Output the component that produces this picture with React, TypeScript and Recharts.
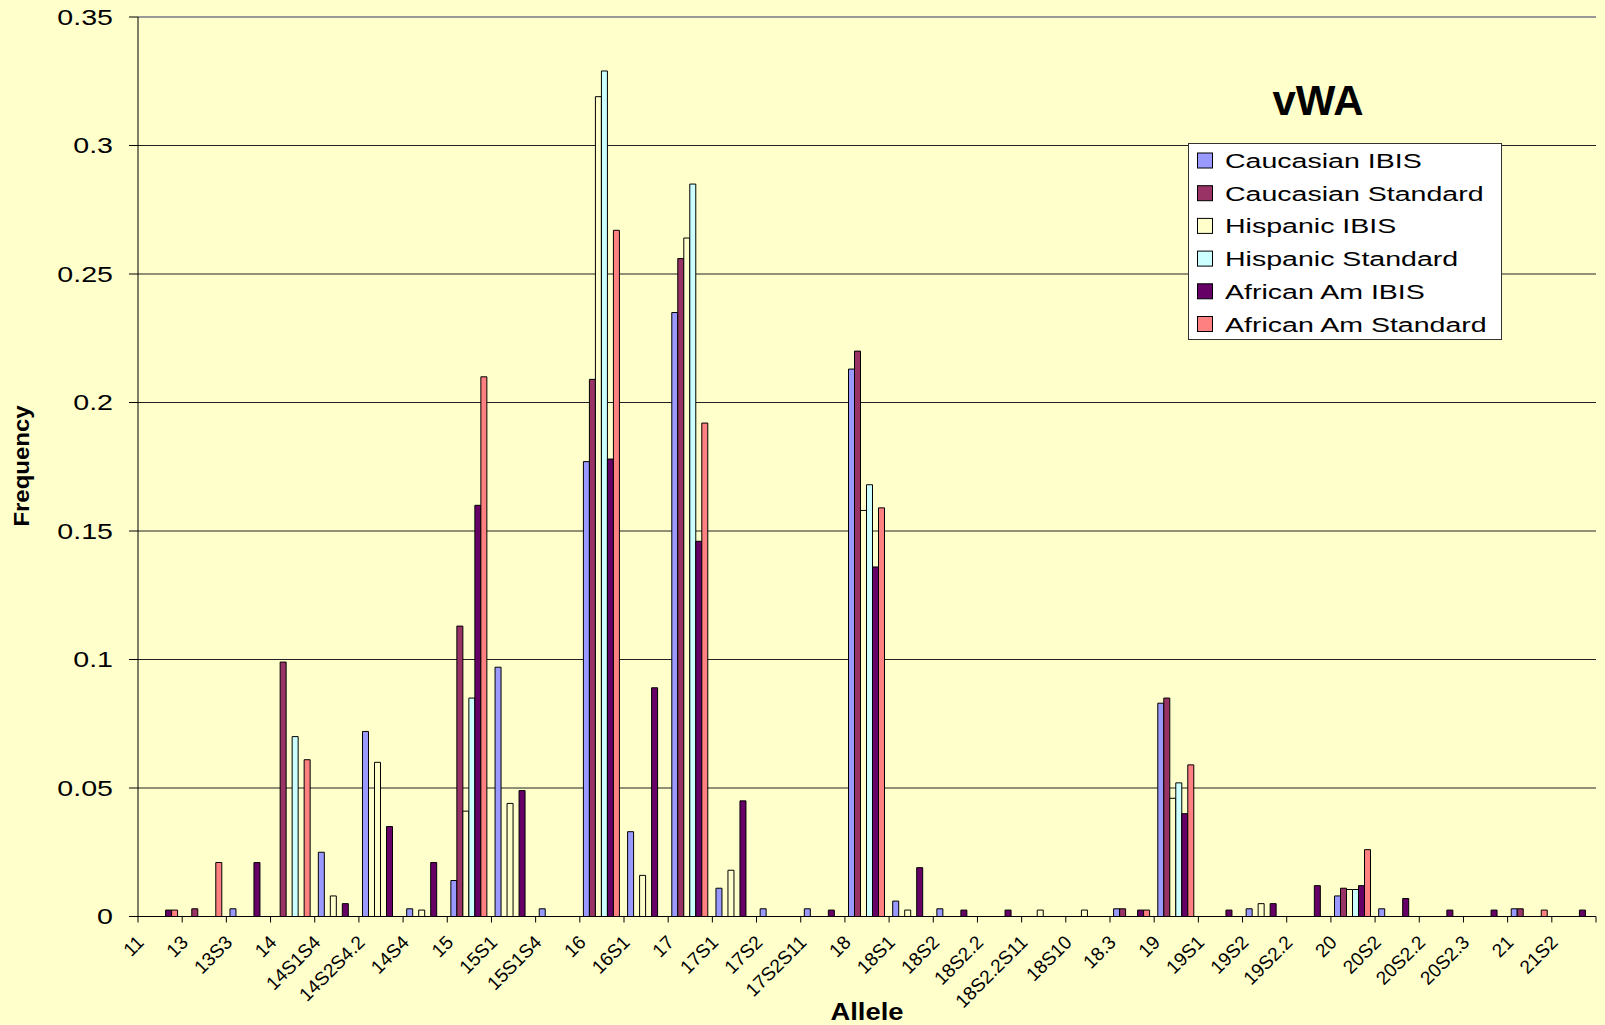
import React from 'react';
import { BarChart, Bar, XAxis, YAxis, CartesianGrid, Legend, ReferenceLine } from 'recharts';

// allele categories along the x axis
const alleles = [
  '11', '13', '13S3', '14', '14S1S4', '14S2S4.2', '14S4', '15', '15S1', '15S1S4',
  '16', '16S1', '17', '17S1', '17S2', '17S2S11', '18', '18S1', '18S2', '18S2.2',
  '18S2.2S11', '18S10', '18.3', '19', '19S1', '19S2', '19S2.2', '20', '20S2', '20S2.2',
  '20S2.3', '21', '21S2',
];

// frequencies, one value per allele (0 = no bar)
const caucasianIbis = [
  0, 0, 0.003, 0, 0.025, 0.072, 0.003, 0.014, 0.097, 0.003,
  0.177, 0.033, 0.235, 0.011, 0.003, 0.003, 0.213, 0.006, 0.003, 0,
  0, 0, 0.003, 0.083, 0, 0.003, 0, 0.008, 0.003, 0,
  0, 0.003, 0,
];
const caucasianStandard = [
  0, 0.003, 0, 0.099, 0, 0, 0, 0.113, 0, 0,
  0.209, 0, 0.256, 0, 0, 0, 0.22, 0, 0, 0,
  0, 0, 0.003, 0.085, 0, 0, 0, 0.011, 0, 0,
  0, 0.003, 0,
];
const hispanicIbis = [
  0, 0, 0, 0, 0.008, 0.06, 0.0025, 0.041, 0.044, 0,
  0.319, 0.016, 0.264, 0.018, 0, 0, 0.158, 0.0025, 0, 0,
  0.0025, 0.0025, 0, 0.046, 0, 0.005, 0, 0.0105, 0, 0,
  0, 0, 0,
];
const hispanicStandard = [
  0, 0, 0, 0.07, 0, 0, 0, 0.085, 0, 0,
  0.329, 0, 0.285, 0, 0, 0, 0.168, 0, 0, 0,
  0, 0, 0, 0.052, 0, 0, 0, 0.0105, 0, 0,
  0, 0, 0,
];
const africanIbis = [
  0.0025, 0, 0.021, 0, 0.005, 0.035, 0.021, 0.16, 0.049, 0,
  0.178, 0.089, 0.146, 0.045, 0, 0.0025, 0.136, 0.019, 0.0025, 0.0025,
  0, 0, 0.0025, 0.04, 0.0025, 0.005, 0.012, 0.012, 0.007, 0.0025,
  0.0025, 0, 0.0025,
];
const africanStandard = [
  0.0025, 0.021, 0, 0.061, 0, 0, 0, 0.21, 0, 0,
  0.267, 0, 0.192, 0, 0, 0, 0.159, 0, 0, 0,
  0, 0, 0.0025, 0.059, 0, 0, 0, 0.026, 0, 0,
  0, 0.0025, 0,
];

const yTicks = [0, 0.05, 0.1, 0.15, 0.2, 0.25, 0.3, 0.35];

const SERIES = [
  { key: 'cIbis', name: 'Caucasian IBIS', color: '#9999FF', values: caucasianIbis },
  { key: 'cStd', name: 'Caucasian Standard', color: '#993366', values: caucasianStandard },
  { key: 'hIbis', name: 'Hispanic IBIS', color: '#FFFFCC', values: hispanicIbis },
  { key: 'hStd', name: 'Hispanic Standard', color: '#CCFFFF', values: hispanicStandard },
  { key: 'aIbis', name: 'African Am IBIS', color: '#660066', values: africanIbis },
  { key: 'aStd', name: 'African Am Standard', color: '#FF8080', values: africanStandard },
];

const data = alleles.map((allele, i) => {
  const row: Record<string, string | number> = { allele };
  SERIES.forEach((s) => { row[s.key] = s.values[i]; });
  return row;
});

const FONT = "'Liberation Sans', Arial, Helvetica, sans-serif";
const BG = '#FFFFCC';

const AlleleTick = (props: any) => {
  const { x, y, payload, index } = props;
  const half = payload && payload.offset ? payload.offset : 22.08;
  const tx = x - 15;
  const ty = y + 27;
  return (
    <g>
      <line x1={x - half} x2={x - half} y1={y} y2={y + 6} stroke="#000" />
      {index === alleles.length - 1 && (
        <line x1={x + half} x2={x + half} y1={y} y2={y + 6} stroke="#000" />
      )}
      <text
        x={tx}
        y={ty}
        transform={`rotate(-45 ${tx} ${ty})`}
        textAnchor="end"
        fontSize={19}
        fontFamily={FONT}
        fill="#000"
      >
        {payload.value}
      </text>
    </g>
  );
};

const FreqTick = (props: any) => {
  const { x, y, payload } = props;
  return (
    <g transform={`translate(${x},${y}) scale(1.3,1)`}>
      <text x={0} y={0} dy="0.36em" textAnchor="end" fontSize={22} fontFamily={FONT} fill="#000">
        {String(payload.value)}
      </text>
    </g>
  );
};

// keep the series order, whatever order the legend payload comes in
const LegendBox = ({ payload }: any) => {
  const keys = (payload || []).map((p: any) => p.dataKey);
  const items = SERIES.filter((s) => keys.length === 0 || keys.includes(s.key));
  return (
    <svg width={314} height={197} style={{ display: 'block' }}>
      <rect x={0.5} y={0.5} width={313} height={196} fill="#FFFFFF" stroke="#333" />
      {items.map((s, i) => {
        const cy = 17.5 + i * 32.7;
        return (
          <g key={s.key}>
            <rect x={9.5} y={cy - 7.5} width={15} height={15} fill={s.color} stroke="#000" />
            <g transform={`translate(37 ${cy + 7.5}) scale(1.36 1)`}>
              <text x={0} y={0} fontSize={21} fontFamily={FONT} fill="#000">{s.name}</text>
            </g>
          </g>
        );
      })}
    </svg>
  );
};

export default function App() {
  return (
    <div style={{ position: 'relative', width: 1605, height: 1025, background: BG }}>
      <style>{'body{margin:0;}'}</style>
      <BarChart
        width={1605}
        height={1025}
        data={data}
        margin={{ top: 17, right: 9, bottom: 0, left: 0 }}
        barCategoryGap="8.15%"
        barGap={0}
      >
        <CartesianGrid vertical={false} stroke="#222" />
        <XAxis
          dataKey="allele"
          interval={0}
          height={108.5}
          tickLine={false}
          tickSize={0}
          tickMargin={0}
          axisLine={{ stroke: '#000' }}
          tick={<AlleleTick />}
        />
        <YAxis
          domain={[0, 0.35]}
          ticks={yTicks}
          width={138}
          tickSize={9}
          tickMargin={16}
          tickLine={{ stroke: '#000' }}
          axisLine={{ stroke: '#000' }}
          tick={<FreqTick />}
        />
        <YAxis
          yAxisId="frame"
          orientation="right"
          width={0}
          domain={[0, 1]}
          tick={false}
          tickLine={false}
          axisLine={{ stroke: '#999', strokeWidth: 2 }}
        />
        <ReferenceLine y={0.35} stroke="#999" strokeWidth={2} />
        <Legend
          layout="vertical"
          align="center"
          verticalAlign="middle"
          content={<LegendBox />}
          wrapperStyle={{ position: 'absolute', left: 1188, top: 143, width: 314, height: 197 }}
        />
        {SERIES.map((s) => (
          <Bar
            key={s.key}
            dataKey={s.key}
            name={s.name}
            fill={s.color}
            stroke="#000"
            strokeWidth={1}
            isAnimationActive={false}
          />
        ))}
      </BarChart>
      <svg
        width={1605}
        height={1025}
        style={{ position: 'absolute', left: 0, top: 0, pointerEvents: 'none' }}
      >
        <text x={1318} y={115} textAnchor="middle" fontSize={42} fontWeight="bold" fontFamily={FONT} fill="#000">
          vWA
        </text>
        <g transform="translate(867 1020) scale(1.19 1)">
          <text x={0} y={0} textAnchor="middle" fontSize={23} fontWeight="bold" fontFamily={FONT} fill="#000">
            Allele
          </text>
        </g>
        <g transform="translate(29 466) rotate(-90) scale(1.09 1)">
          <text x={0} y={0} textAnchor="middle" fontSize={22} fontWeight="bold" fontFamily={FONT} fill="#000">
            Frequency
          </text>
        </g>
      </svg>
    </div>
  );
}
